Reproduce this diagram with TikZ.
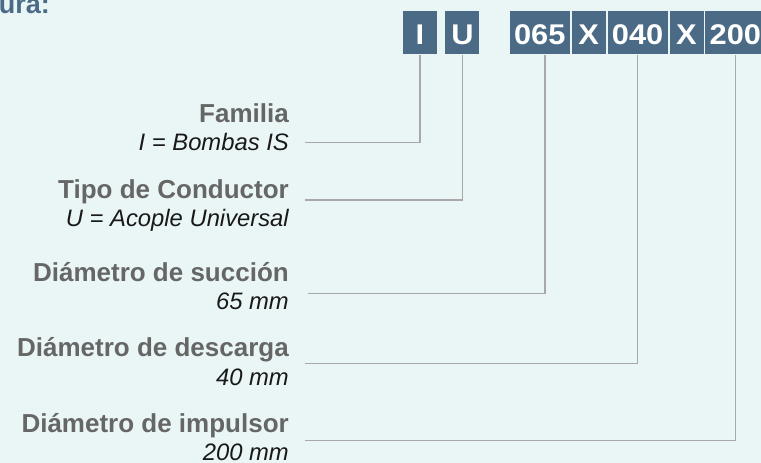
\documentclass[tikz,border=0pt]{standalone}
\usepackage{fontspec}
\setmainfont{Liberation Sans}
\newfontfamily\codefont[FakeStretch=1.08]{Liberation Sans}
\usetikzlibrary{positioning}

\definecolor{bgcol}{HTML}{EAF6F6}
\definecolor{boxcol}{HTML}{4B6A86}
\definecolor{headcol}{HTML}{666666}
\definecolor{leadcol}{HTML}{A8A8A8}

\begin{document}
\begin{tikzpicture}[
  x=1pt,
  y=-1pt,
  node distance=1.5pt,
  codebox/.style={
    fill=boxcol,
    text=white,
    inner sep=0,
    minimum height=43.5pt,
    minimum width=34pt,
    text height=23pt,
    text depth=0pt,
    font=\codefont\bfseries\fontsize{28.5}{30}\selectfont
  },
  wide/.style={minimum width=60pt},
  head/.style={
    anchor=base east,
    inner sep=0,
    text=headcol,
    font=\bfseries\fontsize{26}{30}\selectfont
  },
  value/.style={
    anchor=base east,
    inner sep=0,
    text=black!90,
    font=\itshape\fontsize{23.8}{28}\selectfont
  },
  leader/.style={draw=leadcol, line width=1.4pt}
  ]

  \useasboundingbox (0,0) rectangle (761,463);
  \fill[bgcol] (0,0) rectangle (761,463);

  \node [anchor=base east, inner sep=0, text=boxcol,
    font=\bfseries\fontsize{27}{30}\selectfont] (title) at (50,13.3) {ura:};

  % code boxes
  \node [codebox] (bI) at (420,32.7) {I};
  \node [codebox] (bU) [right=8pt of bI] {U};
  \node [codebox, wide] (b065) [right=30pt of bU] {065};
  \node [codebox] (bX1) [right=of b065] {X};
  \node [codebox, wide] (b040) [right=of bX1] {040};
  \node [codebox] (bX2) [right=of b040] {X};
  \node [codebox, wide] (b200) [right=of bX2] {200};

  % labels
  \node [head] (famT) at (289,122) {Familia};
  \node [value] (famV) at (289,150.7) {I = Bombas IS};

  \node [head] (tipoT) at (289,198) {Tipo de Conductor};
  \node [value] (tipoV) at (289,226.7) {U = Acople Universal};

  \node [head] (sucT) at (289,281.7) {Diámetro de succión};
  \node [value] (sucV) at (289,309.3) {65 mm};

  \node [head] (desT) at (289,356.7) {Diámetro de descarga};
  \node [value] (desV) at (289,385) {40 mm};

  \node [head] (impT) at (289,432.3) {Diámetro de impulsor};
  \node [value] (impV) at (289,460) {200 mm};

  % leader lines
  \coordinate (famL) at (305,142.3);
  \coordinate (tipoL) at (305,200);
  \coordinate (sucL) at (308,293.3);
  \coordinate (desL) at (305,363.7);
  \coordinate (impL) at (305,440.7);

  \draw [leader] (famL) -| (bI.south);
  \draw [leader] (tipoL) -| (bU.south);
  \draw [leader] (sucL) -| ([xshift=5.3pt]b065.south);
  \draw [leader] (desL) -| (b040.south);
  \draw [leader] (impL) -| (b200.south);

\end{tikzpicture}
\end{document}
